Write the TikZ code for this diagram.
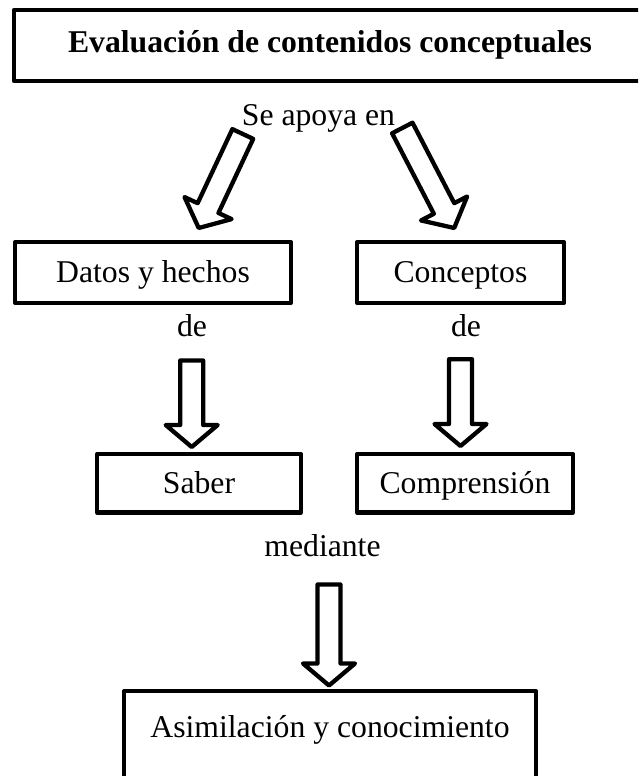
\documentclass[tikz,border=0pt]{standalone}
\usepackage{fontspec}
\setmainfont{Liberation Serif}
\usetikzlibrary{calc}
\newcommand\ahl{22pt}
\newcommand\ahw{11.5pt}
\newcommand\ahH{26pt}
\newcommand\blkarrow[2]{%
  \coordinate (#1#2base) at ($(#2)!\ahl!(#1)$);
  \draw[blockarrow] ($(#1)!\ahw!90:(#2)$) -- ($(#1#2base)!\ahw!90:(#2)$)
    -- ($(#1#2base)!\ahH!90:(#2)$) -- (#2) -- ($(#1#2base)!\ahH!-90:(#2)$)
    -- ($(#1#2base)!\ahw!-90:(#2)$) -- ($(#1)!\ahw!-90:(#2)$) -- cycle;}
\tikzset{
  txt/.style={font=\fontsize{31.7}{36}\selectfont, inner sep=0pt},
  box/.style={txt, draw=black, line width=4.3pt, line join=round, fill=white,
    text height=26pt, text depth=6pt},
  lbl/.style={txt, anchor=base},
  blockarrow/.style={draw=black, fill=white, line width=4.3pt, line join=round}
}
\begin{document}
\begin{tikzpicture}[x=1pt,y=-1pt]
\clip (0,0) rectangle (638,776);
\fill[white] (0,0) rectangle (638,776);
% boxes
\node[box, font=\fontsize{31.7}{36}\selectfont\bfseries, minimum width=632pt, minimum height=71pt,
  text height=22pt, text depth=8.8pt] (title) at (330,45.5) {Evaluación de contenidos conceptuales};
\node[box, minimum width=275.8pt, minimum height=60.8pt] (datos) at (153,272.5) {Datos y hechos};
\node[box, minimum width=206.8pt, minimum height=60.8pt] (conceptos) at (460.5,272.5) {Conceptos};
\node[box, minimum width=203.8pt, minimum height=58.5pt] (saber) at (199,483.3) {Saber};
\node[box, minimum width=215.8pt, minimum height=58.5pt] (compr) at (465,483.3) {Comprensión};
\node[box, minimum width=411.8pt, minimum height=126.8pt, text depth=60pt] (asim) at (330,754.5) {Asimilación y conocimiento};
% labels
\node[lbl] (apoya) at (318.5,125) {Se apoya en};
\node[lbl] (de1) at (192,336) {de};
\node[lbl] (de2) at (466,336) {de};
\node[lbl] (mediante) at (322.5,556) {mediante};
% arrow end points
\coordinate (t1) at (242.8,134); \coordinate (p1) at (198.7,228);
\coordinate (t2) at (402.3,128); \coordinate (p2) at (454.2,228);
\coordinate (t3) at (191.7,360.5); \coordinate (p3) at (191.7,447);
\coordinate (t4) at (460.5,359.2); \coordinate (p4) at (460.5,446);
\coordinate (t5) at (329,584.5);   \coordinate (p5) at (329,685.5);
\blkarrow{t1}{p1}
\blkarrow{t2}{p2}
\blkarrow{t3}{p3}
\blkarrow{t4}{p4}
\blkarrow{t5}{p5}
\end{tikzpicture}
\end{document}
